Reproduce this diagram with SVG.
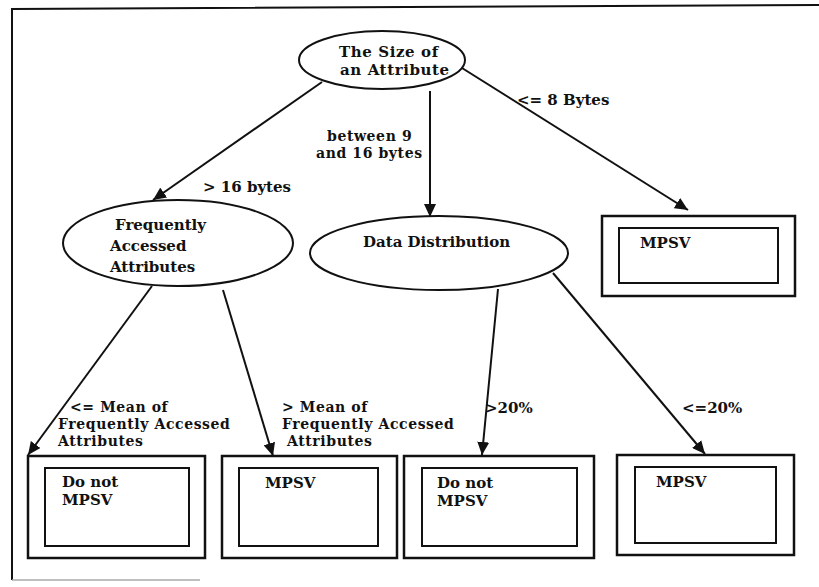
<svg xmlns="http://www.w3.org/2000/svg" width="819" height="587" viewBox="0 0 819 587">
<style>
text{font-family:"DejaVu Serif","Liberation Serif",serif;font-weight:bold;font-size:15px;fill:#111}
.t16{font-size:15px;letter-spacing:0.6px}
.lbl{font-size:14px;letter-spacing:0.6px}
.shape{fill:#fff;stroke:#111;stroke-width:2}
.outer{fill:#fff;stroke:#111;stroke-width:2.5}
.inner{fill:none;stroke:#111;stroke-width:2}
.conn line{stroke:#111;stroke-width:2;marker-end:url(#arr)}
</style>
<defs>
<marker id="arr" markerUnits="userSpaceOnUse" markerWidth="14" markerHeight="12" refX="13" refY="6" orient="auto">
<path d="M0,0 L13,6 L0,12 z" fill="#111"/>
</marker>
</defs>
<rect width="819" height="587" fill="#fff"/>
<g id="frame" fill="none">
<polyline points="12,580 12,9 819,5" stroke="#111" stroke-width="2"/>
<line x1="12" y1="580" x2="200" y2="580" stroke="#aaa" stroke-width="1.5"/>
</g>
<g class="conn" id="connectors">
<line x1="322" y1="82" x2="153" y2="200"/>
<line x1="430" y1="91" x2="430" y2="217"/>
<line x1="462" y1="68" x2="688" y2="210"/>
<line x1="152" y1="286" x2="28" y2="455"/>
<line x1="223" y1="290" x2="273" y2="456"/>
<line x1="498" y1="289" x2="482" y2="455"/>
<line x1="553" y1="273" x2="705" y2="454"/>
</g>
<g id="labels">
<text x="517" y="105">&lt;= 8 Bytes</text>
<text class="lbl" x="327" y="141">between 9</text>
<text class="lbl" x="316" y="158">and 16 bytes</text>
<text x="203" y="192">&gt; 16 bytes</text>
<text class="lbl" x="70" y="412">&lt;= Mean of</text>
<text class="lbl" x="58" y="429">Frequently Accessed</text>
<text class="lbl" x="58" y="446">Attributes</text>
<text class="lbl" x="282" y="412">&gt; Mean  of</text>
<text class="lbl" x="282" y="429">Frequently Accessed</text>
<text class="lbl" x="287" y="446">Attributes</text>
<text x="485" y="413">&gt;20%</text>
<text x="682" y="413">&lt;=20%</text>
</g>
<g id="node-size">
<ellipse class="shape" cx="382" cy="60" rx="83" ry="29"/>
<text class="t16" x="339" y="57">The Size of</text>
<text class="t16" x="340" y="75">an Attribute</text>
</g>
<g id="node-freq">
<ellipse class="shape" cx="178" cy="243" rx="115" ry="43"/>
<text x="115" y="230">Frequently</text>
<text x="110" y="251">Accessed</text>
<text x="110" y="272">Attributes</text>
</g>
<g id="node-data">
<ellipse class="shape" cx="439" cy="253" rx="129" ry="37"/>
<text x="363" y="247">Data Distribution</text>
</g>
<g id="node-mpsv-top">
<rect class="outer" x="602" y="216" width="193" height="80"/>
<rect class="inner" x="619" y="228" width="159" height="55"/>
<text x="640" y="248">MPSV</text>
</g>
<g id="node-box1">
<rect class="outer" x="28" y="456" width="177" height="102"/>
<rect class="inner" x="45" y="468" width="144" height="78"/>
<text x="62" y="487">Do not</text>
<text x="62" y="505">MPSV</text>
</g>
<g id="node-box2">
<rect class="outer" x="222" y="456" width="175" height="102"/>
<rect class="inner" x="239" y="468" width="139" height="78"/>
<text x="265" y="488">MPSV</text>
</g>
<g id="node-box3">
<rect class="outer" x="404" y="456" width="190" height="102"/>
<rect class="inner" x="422" y="468" width="155" height="78"/>
<text x="437" y="488">Do not</text>
<text x="437" y="506">MPSV</text>
</g>
<g id="node-box4">
<rect class="outer" x="617" y="455" width="177" height="100"/>
<rect class="inner" x="635" y="467" width="141" height="76"/>
<text x="656" y="487">MPSV</text>
</g>
</svg>
